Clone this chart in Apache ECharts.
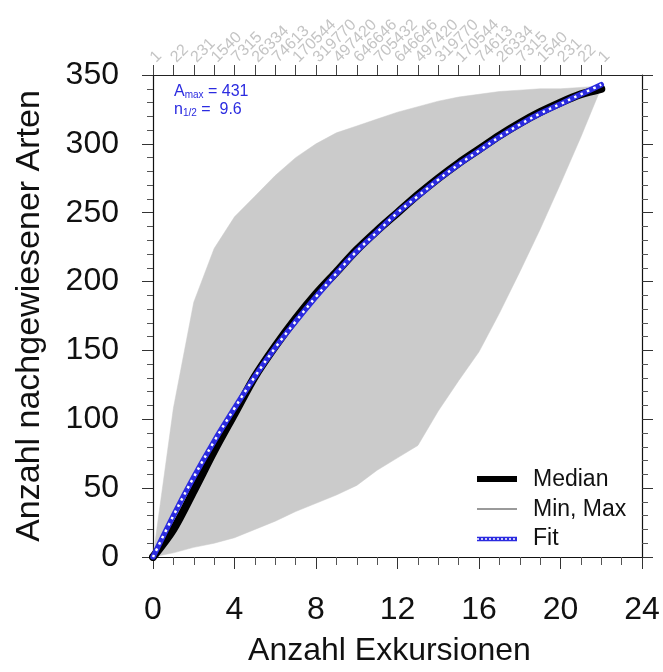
<!DOCTYPE html>
<html><head><meta charset="utf-8">
<script src="https://cdn.jsdelivr.net/npm/echarts@6/dist/echarts.min.js"></script>
<style>html,body{margin:0;padding:0;background:#fff}#c{width:663px;height:672px}</style>
</head><body><div id="c"></div>
<script>
// ---- data ----
const exkursionen = [0,1,2,3,4,5,6,7,8,9,10,11,12,13,14,15,16,17,18,19,20,21,22];
const medianVals = [0,20,48,77,104,131,153,173,191,207,223,237,250,263,275,286,296,306,315,323,330,336,340];
const minVals    = [0,3,7,10,14,20,26,33,39,45,52,63,72,81,106,128,149,177,207,238,271,305,341];
const maxVals    = [0,108,185,224,247,262,277,290,300,308,313,318,323,327,331,334,336,338,339,340,340,341,342];
const fitVals    = [0,30,58,84,108,131,152,171,189,206,222,236,250,262,274,285,295,305,314,322,329,336,343];
const combLabels = ['1','22','231','1540','7315','26334','74613','170544','319770','497420','646646','705432','646646','497420','319770','170544','74613','26334','7315','1540','231','22','1'];
const xTicks = [0,4,8,12,16,20,24];
const yTicks = [0,50,100,150,200,250,300,350];
const fitAmax = '431';
const fitNhalf = '9.6';
const legendNames = ['Median','Min, Max','Fit'];
const xName = 'Anzahl Exkursionen';
const yName = 'Anzahl nachgewiesener Arten';

// ---- chart ----
const FONT = '"Liberation Sans", Arial, Helvetica, sans-serif';
const BLUE = '#2b2be0';
const chart = echarts.init(document.getElementById('c'), null, {renderer:'canvas'});
const pair = arr => exkursionen.map((x,i)=>[x, arr[i]]);
const xMin = xTicks[0], xMax = xTicks[xTicks.length-1];
// top category axis: one slot per integer position of the bottom axis
const topCategories = Array.from({length: xMax - xMin + 1}, (_, i) => combLabels[i] ?? '');

const option = {
  backgroundColor:'#fff',
  animation:false,
  textStyle:{fontFamily:FONT},
  grid:{left:153, right:21, top:75, bottom:111, containLabel:false},
  xAxis:[{
    type:'value', position:'bottom', min:xMin, max:xMax, interval:4,
    name:xName, nameLocation:'middle', nameGap:78,
    nameTextStyle:{fontSize:32, color:'#111', fontFamily:FONT, padding:[0,16,0,0]},
    axisLine:{show:true, onZero:false, lineStyle:{color:'#111', width:1.2}},
    axisTick:{show:true, inside:false, length:12, lineStyle:{color:'#333', width:1}},
    minorTick:{show:true, splitNumber:4, length:8, lineStyle:{color:'#555', width:1}},
    axisLabel:{fontSize:32, color:'#111', margin:37, fontFamily:FONT},
    splitLine:{show:false}
  },{
    type:'category', position:'top', data:topCategories, boundaryGap:false,
    axisLine:{show:true, onZero:false, lineStyle:{color:'#222', width:1.2}},
    axisTick:{show:true, inside:false, length:10, alignWithLabel:true,
      interval:(idx)=>idx < combLabels.length, lineStyle:{color:'#444', width:1}},
    axisLabel:{show:true, interval:0, rotate:-45, fontSize:16, color:'#c4c4c4', margin:15,
      hideOverlap:false, fontFamily:FONT},
    splitLine:{show:false}
  }],
  yAxis:[{
    type:'value', position:'left', min:yTicks[0], max:yTicks[yTicks.length-1], interval:50,
    name:yName, nameLocation:'middle', nameGap:106,
    nameTextStyle:{fontSize:34, color:'#111', fontFamily:FONT},
    axisLine:{show:true, onZero:false, lineStyle:{color:'#111', width:1.2}},
    axisTick:{show:true, inside:false, length:11, lineStyle:{color:'#333', width:1}},
    minorTick:{show:true, splitNumber:5, length:6, lineStyle:{color:'#555', width:1}},
    axisLabel:{fontSize:32, color:'#111', margin:34, fontFamily:FONT},
    splitLine:{show:false}
  },{
    type:'value', position:'right', min:yTicks[0], max:yTicks[yTicks.length-1], interval:50,
    axisLine:{show:true, onZero:false, lineStyle:{color:'#111', width:1.2}},
    axisTick:{show:true, inside:false, length:11, lineStyle:{color:'#333', width:1}},
    minorTick:{show:true, splitNumber:5, length:6, lineStyle:{color:'#555', width:1}},
    axisLabel:{show:false},
    splitLine:{show:false}
  }],
  series:[{
    name:legendNames[1], type:'custom', xAxisIndex:0, yAxisIndex:0, z:1,
    data: exkursionen.map((x,i)=>[x, minVals[i], maxVals[i]]),
    renderItem:(params, api)=>{
      if (params.dataIndex !== 0) return null;
      const pts = [];
      for (let i=0;i<exkursionen.length;i++) pts.push(api.coord([exkursionen[i], maxVals[i]]));
      for (let i=exkursionen.length-1;i>=0;i--) pts.push(api.coord([exkursionen[i], minVals[i]]));
      return {type:'polygon', shape:{points:pts}, style:{fill:'#cbcbcb', stroke:'#cbcbcb', lineWidth:0.5}};
    },
    silent:true
  },{
    name:legendNames[0], type:'line', xAxisIndex:0, data:pair(medianVals), showSymbol:false, smooth:0.3, z:3,
    lineStyle:{color:'#000', width:8, cap:'round', join:'round'}
  },{
    name:legendNames[2], type:'line', xAxisIndex:0, data:pair(fitVals), showSymbol:false, smooth:0.4, z:4,
    lineStyle:{color:BLUE, width:5.5, cap:'round'}
  },{
    name:legendNames[2]+'_dots', type:'line', xAxisIndex:0, data:pair(fitVals), showSymbol:false, smooth:0.4, z:5,
    lineStyle:{color:'#fff', width:2.5, type:[2.5,4.5], cap:'butt'}
  }],
  graphic:[
    {type:'text', left:174, top:84, z:10, style:{
      text:'A{sub|max} = '+fitAmax, fill:BLUE, font:'16px '+FONT,
      rich:{sub:{fontSize:10, verticalAlign:'bottom', padding:[7,0,0,0], fill:BLUE, fontFamily:FONT}}}},
    {type:'text', left:174, top:102, z:10, style:{
      text:'n{sub|1/2} =  '+fitNhalf, fill:BLUE, font:'16px '+FONT,
      rich:{sub:{fontSize:10, verticalAlign:'bottom', padding:[7,0,0,0], fill:BLUE, fontFamily:FONT}}}},
    // legend
    {type:'line', z:10, shape:{x1:477,y1:479,x2:517,y2:479}, style:{stroke:'#000', lineWidth:6}},
    {type:'text', z:10, x:533, y:480, style:{text:legendNames[0], font:'23px '+FONT, fill:'#111', verticalAlign:'middle'}},
    {type:'line', z:10, shape:{x1:477,y1:509,x2:517,y2:509}, style:{stroke:'#9a9a9a', lineWidth:2}},
    {type:'text', z:10, x:533, y:510, style:{text:legendNames[1], font:'23px '+FONT, fill:'#111', verticalAlign:'middle'}},
    {type:'line', z:10, shape:{x1:477,y1:539,x2:517,y2:539}, style:{stroke:BLUE, lineWidth:4.5}},
    {type:'line', z:11, shape:{x1:477,y1:539,x2:517,y2:539}, style:{stroke:'#fff', lineWidth:1.5, lineDash:[2,2]}},
    {type:'text', z:10, x:533, y:539, style:{text:legendNames[2], font:'23px '+FONT, fill:'#111', verticalAlign:'middle'}}
  ]
};
chart.setOption(option);
</script>
</body></html>
